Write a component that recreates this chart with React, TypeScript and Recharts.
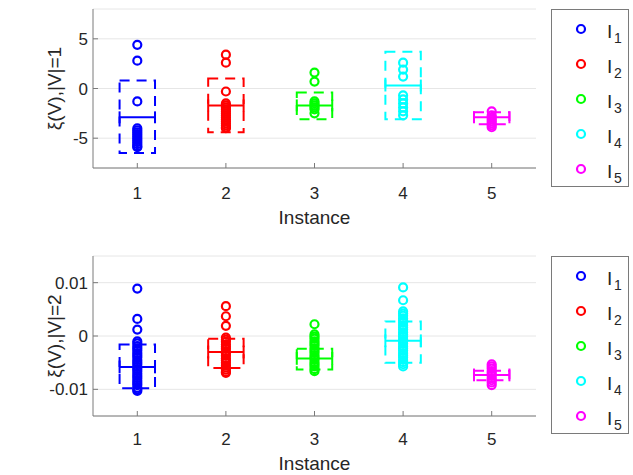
import React from 'react';
import {
  ScatterChart,
  Scatter,
  XAxis,
  YAxis,
  CartesianGrid,
  ReferenceArea,
  ReferenceLine,
  Legend,
} from 'recharts';

const FONT = '"Liberation Sans", Arial, sans-serif';
const TEXT = '#262626';
const FRAME = '#7a7a7a';

const instances = [1, 2, 3, 4, 5];
const seriesNames = ['1', '2', '3', '4', '5'];
const colors = ['#0000ff', '#ff0000', '#00ff00', '#00ffff', '#ff00ff'];
const xTicks = [1, 2, 3, 4, 5];

// ---- |V| = 1 ----
const topYTicks = [-5, 0, 5];
const topI1 = [4.4, 2.8, -1.3, -4.0, -4.2, -4.4, -4.6, -4.8, -5.0, -5.2, -5.4, -5.6, -5.8, -5.9];
const topI2 = [3.4, 2.6, -0.3, -1.5, -1.7, -1.9, -2.1, -2.3, -2.5, -2.7, -2.9, -3.1, -3.3, -3.5, -3.7, -3.9, -4.0];
const topI3 = [1.6, 0.7, -1.3, -1.5, -1.7, -1.9, -2.1, -2.5];
const topI4 = [2.6, 1.9, 1.2, -0.7, -1.1, -1.5, -1.9, -2.3, -2.7];
const topI5 = [-2.3, -2.7, -2.9, -3.1, -3.3, -3.5, -3.7, -3.9];
const topUpper = [0.8, 1.0, -0.4, 3.7, -2.4];
const topLower = [-6.5, -4.4, -3.1, -3.1, -3.6];
const topMean = [-2.9, -1.7, -1.7, 0.3, -2.9];

// ---- |V| = 2 ----
const botYTicks = [-0.01, 0, 0.01];
const botI1 = [0.0089, 0.0032, 0.0012, -0.001, -0.0014, -0.0019, -0.0023, -0.0027, -0.0032, -0.0036, -0.004, -0.0045, -0.0049, -0.0053, -0.0058, -0.0062, -0.0066, -0.0071, -0.0075, -0.0079, -0.0084, -0.0088, -0.0092, -0.0097, -0.01, -0.0103];
const botI2 = [0.0056, 0.0037, 0.0019, -0.0003, -0.0007, -0.0011, -0.0016, -0.002, -0.0024, -0.0029, -0.0033, -0.0037, -0.0042, -0.0046, -0.005, -0.0055, -0.0059, -0.0063, -0.0067, -0.0069];
const botI3 = [0.0022, 0.0003, -0.0001, -0.0005, -0.001, -0.0014, -0.0018, -0.0023, -0.0027, -0.0031, -0.0036, -0.004, -0.0044, -0.0049, -0.0053, -0.0057, -0.0062, -0.0066];
const botI4 = [0.0091, 0.0067, 0.0046, 0.0042, 0.0038, 0.0033, 0.0029, 0.0025, 0.002, 0.0016, 0.0012, 0.0007, 0.0003, -0.0001, -0.0006, -0.001, -0.0014, -0.0019, -0.0023, -0.0027, -0.0032, -0.0036, -0.004, -0.0045, -0.0049, -0.0053, -0.0057];
const botI5 = [-0.0053, -0.0057, -0.0061, -0.0066, -0.007, -0.0074, -0.0079, -0.0083, -0.0087, -0.0092];
const botUpper = [-0.0016, -0.0005, -0.0024, 0.0027, -0.0065];
const botLower = [-0.0098, -0.006, -0.0063, -0.005, -0.0083];
const botMean = [-0.0058, -0.003, -0.0042, -0.0009, -0.0073];

const HALF_W = 0.2;

const makeShape = (color: string) => (props: any) => {
  if (props == null || props.cx == null || props.cy == null) return <g />;
  return <circle cx={props.cx} cy={props.cy} r={4} fill="none" stroke={color} strokeWidth={2.2} />;
};

const YLabel = (props: any) => {
  const vb = props.viewBox || { x: 33, y: 9, width: 60, height: 159 };
  const cx = vb.x + 21;
  const cy = vb.y + vb.height / 2;
  return (
    <text
      x={cx}
      y={cy}
      transform={`rotate(-90 ${cx} ${cy})`}
      textAnchor="middle"
      dominantBaseline="central"
      fill={TEXT}
      fontSize={19}
      fontFamily={FONT}
    >
      {props.text}
    </text>
  );
};

const renderLegend = (props: any) => {
  const payload = props.payload || [];
  return (
    <div style={{ paddingLeft: 15, fontFamily: FONT }}>
      <div
        style={{
          width: 78,
          height: 178,
          boxSizing: 'border-box',
          border: `1px solid ${FRAME}`,
          background: '#fff',
          paddingTop: 1,
        }}
      >
        {payload.map((entry: any, i: number) => {
          const c = entry.color || colors[i];
          return (
            <div key={i} style={{ height: 35, position: 'relative' }}>
              <svg width={12} height={12} style={{ position: 'absolute', left: 23, top: 11.5 }}>
                <circle cx={6} cy={6} r={4} fill="none" stroke={c} strokeWidth={2.2} />
              </svg>
              <span
                style={{
                  position: 'absolute',
                  left: 55,
                  top: 10.5,
                  fontSize: 19,
                  lineHeight: 1,
                  color: TEXT,
                }}
              >
                I
              </span>
              <span
                style={{
                  position: 'absolute',
                  left: 62,
                  top: 20,
                  fontSize: 14,
                  lineHeight: 1,
                  color: TEXT,
                }}
              >
                {entry.value}
              </span>
            </div>
          );
        })}
      </div>
    </div>
  );
};

const emptyTick = () => <g />;

type PanelProps = {
  height: number;
  margin: { top: number; right: number; bottom: number; left: number };
  yDomain: [number, number];
  yTicks: number[];
  series: number[][];
  upper: number[];
  lower: number[];
  mean: number[];
  cap: number;
  yLabel: string;
  xAxisHeight: number;
  xTickMargin: number;
  xLabelOffset: number;
};

const Panel = (p: PanelProps) => (
  <ScatterChart width={633} height={p.height} margin={p.margin}>
    <CartesianGrid vertical={false} stroke="#e6e6e6" />
    <XAxis
      type="number"
      dataKey="x"
      domain={[0.5, 5.5]}
      ticks={xTicks}
      interval={0}
      allowDataOverflow
      height={p.xAxisHeight}
      tickSize={-5}
      tickMargin={p.xTickMargin}
      stroke={FRAME}
      tick={{ fill: TEXT, fontSize: 17, fontFamily: FONT }}
      label={{
        value: 'Instance',
        position: 'insideBottom',
        offset: p.xLabelOffset,
        fill: TEXT,
        fontSize: 19,
        fontFamily: FONT,
      }}
    />
    <XAxis
      xAxisId="top"
      orientation="top"
      type="number"
      domain={[0.5, 5.5]}
      ticks={xTicks}
      interval={0}
      allowDataOverflow
      height={0}
      tickSize={-5}
      stroke={FRAME}
      tick={emptyTick}
    />
    <YAxis
      type="number"
      dataKey="y"
      domain={p.yDomain}
      ticks={p.yTicks}
      interval={0}
      allowDataOverflow
      width={60}
      tickSize={-5}
      tickMargin={10}
      stroke={FRAME}
      tick={{ fill: TEXT, fontSize: 17, fontFamily: FONT }}
      label={<YLabel text={p.yLabel} />}
    />
    <YAxis
      yAxisId="right"
      orientation="right"
      type="number"
      domain={p.yDomain}
      ticks={p.yTicks}
      interval={0}
      allowDataOverflow
      width={0}
      tickSize={-5}
      stroke={FRAME}
      tick={emptyTick}
    />
    <Legend layout="vertical" align="right" verticalAlign="top" width={93} content={renderLegend} />
    {instances.map((inst, i) => (
      <ReferenceArea
        key={`box-${i}`}
        x1={inst - HALF_W}
        x2={inst + HALF_W}
        y1={p.lower[i]}
        y2={p.upper[i]}
        fill="none"
        fillOpacity={0}
        stroke={colors[i]}
        strokeWidth={2}
        strokeDasharray="10 7"
        ifOverflow="visible"
      />
    ))}
    {instances.map((inst, i) => (
      <ReferenceLine
        key={`mean-${i}`}
        segment={[
          { x: inst - HALF_W, y: p.mean[i] },
          { x: inst + HALF_W, y: p.mean[i] },
        ]}
        stroke={colors[i]}
        strokeWidth={2}
        ifOverflow="visible"
      />
    ))}
    {instances.map((inst, i) => (
      <ReferenceLine
        key={`capl-${i}`}
        segment={[
          { x: inst - HALF_W, y: p.mean[i] - p.cap },
          { x: inst - HALF_W, y: p.mean[i] + p.cap },
        ]}
        stroke={colors[i]}
        strokeWidth={2}
        ifOverflow="visible"
      />
    ))}
    {instances.map((inst, i) => (
      <ReferenceLine
        key={`capr-${i}`}
        segment={[
          { x: inst + HALF_W, y: p.mean[i] - p.cap },
          { x: inst + HALF_W, y: p.mean[i] + p.cap },
        ]}
        stroke={colors[i]}
        strokeWidth={2}
        ifOverflow="visible"
      />
    ))}
    {instances.map((inst, i) => (
      <Scatter
        key={`s-${i}`}
        name={seriesNames[i]}
        data={p.series[i].map((v) => ({ x: inst, y: v }))}
        fill={colors[i]}
        shape={makeShape(colors[i])}
        isAnimationActive={false}
      />
    ))}
  </ScatterChart>
);

export default function App() {
  return (
    <div
      style={{
        position: 'absolute',
        left: 0,
        top: 0,
        width: 633,
        height: 475,
        background: '#fff',
        fontFamily: FONT,
      }}
    >
      <div style={{ position: 'absolute', left: 0, top: 0 }}>
        <Panel
          height={240}
          margin={{ top: 9, right: 4, bottom: 12, left: 33 }}
          yDomain={[-8, 8]}
          yTicks={topYTicks}
          series={[topI1, topI2, topI3, topI4, topI5]}
          upper={topUpper}
          lower={topLower}
          mean={topMean}
          cap={0.6}
          yLabel="ξ(V),|V|=1"
          xAxisHeight={60}
          xTickMargin={24}
          xLabelOffset={4}
        />
      </div>
      <div style={{ position: 'absolute', left: 0, top: 240 }}>
        <Panel
          height={235}
          margin={{ top: 16, right: 4, bottom: 4, left: 33 }}
          yDomain={[-0.015, 0.015]}
          yTicks={botYTicks}
          series={[botI1, botI2, botI3, botI4, botI5]}
          upper={botUpper}
          lower={botLower}
          mean={botMean}
          cap={0.0012}
          yLabel="ξ(V),|V|=2"
          xAxisHeight={55}
          xTickMargin={22}
          xLabelOffset={1}
        />
      </div>
    </div>
  );
}
